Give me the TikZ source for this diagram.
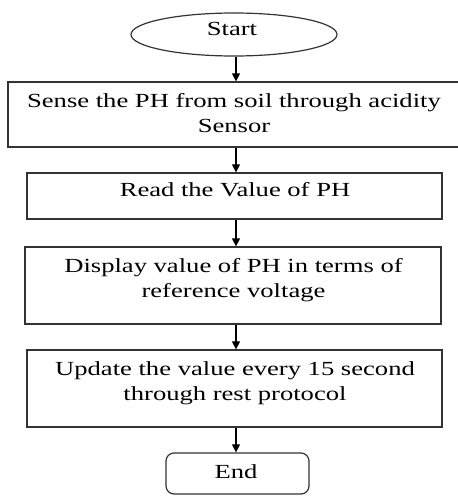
\documentclass[tikz,border=0pt]{standalone}
\usepackage{fontspec}
\setmainfont[FakeStretch=1.33]{Liberation Serif}
\usetikzlibrary{arrows.meta,shapes.geometric}
\begin{document}
\begin{tikzpicture}[x=1pt,y=-1pt,
  frame/.style={draw=black!80, line width=1.2pt, inner sep=0pt},
  caption/.style={inner sep=0pt, align=center, font=\fontsize{20}{25}\selectfont},
  arr/.style={draw=black, line width=1.1pt, -{Triangle[length=8pt,width=8pt]}}]
\useasboundingbox (0,0) rectangle (458,496);
\fill[white] (0,0) rectangle (458,496);

% flowchart frames
\node[frame, ellipse, minimum width=206pt, minimum height=43pt] (start) at (234,34.5) {};
\node[frame, minimum width=451.5pt, minimum height=65pt] (b1) at (233.75,114.5) {};
\node[frame, minimum width=415pt, minimum height=46pt] (b2) at (234.5,196) {};
\node[frame, minimum width=416pt, minimum height=77pt] (b3) at (233,285.5) {};
\node[frame, minimum width=415pt, minimum height=77pt] (b4) at (234.5,388.5) {};
\node[frame, rounded corners=8pt, minimum width=143pt, minimum height=41pt] (stop) at (237.5,473.5) {};

% texts
\node[caption, anchor=base] (tstart) at (232,35.7) {Start};
\node[caption, anchor=north] (t1) at (234,93.3) {Sense the PH from soil through acidity\\Sensor};
\node[caption, anchor=base] (t2) at (235,196) {Read the Value of PH};
\node[caption, anchor=north] (t3) at (233.5,258.3) {Display value of PH in terms of\\reference voltage};
\node[caption, anchor=north] (t4) at (235,361.3) {Update the value every 15 second\\through rest protocol};
\node[caption, anchor=base] (tstop) at (236,478) {End};

% connectors on a common vertical
\coordinate (ax) at (236,0);
\draw[arr] (start.south -| ax) -- (b1.north -| ax);
\draw[arr] (b1.south -| ax) -- (b2.north -| ax);
\draw[arr] (b2.south -| ax) -- (b3.north -| ax);
\draw[arr] (b3.south -| ax) -- (b4.north -| ax);
\draw[arr] (b4.south -| ax) -- (stop.north -| ax);
\end{tikzpicture}
\end{document}
